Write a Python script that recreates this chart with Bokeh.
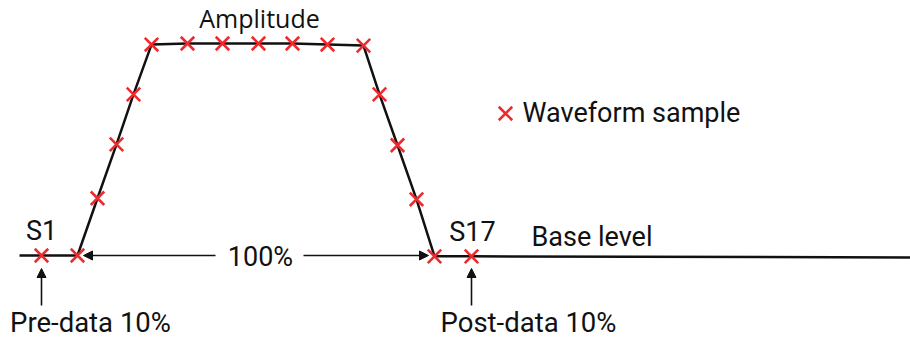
from bokeh.plotting import figure
from bokeh.models import Range1d, Arrow, NormalHead, ColumnDataSource
from bokeh.core.properties import value
from bokeh.embed import file_html
from bokeh.resources import INLINE

# ---- data (time in schematic units, amplitude in % of full amplitude) ----
sample_labels = ["S%d" % i for i in range(1, 18)]
sample_time = [41, 77, 97, 116, 133, 151, 187, 222, 258, 292, 327, 363, 379, 397, 416, 434, 471]
sample_amp = [0, 0, 27, 52.4, 76, 99.5, 100, 100, 100, 100, 99.5, 99, 76, 52, 26.5, -0.4, -0.4]
wave_start_time = [19]
wave_start_amp = [0]
wave_end_time = [915]
wave_end_amp = [-0.9]

# ---- layout helpers (screen pixel -> data units for annotations) ----
PX_PER_PCT = 2.12
BASE_Y = 255.0
TEXT_SHIFT = 10  # svg baseline offset correction


def ay(sy):
    return (BASE_Y - sy) / PX_PER_PCT


W, H = 910, 339
p = figure(width=W, height=H, output_backend="svg", toolbar_location=None,
           x_range=Range1d(0, W), y_range=Range1d(ay(H), ay(0)),
           x_axis_type=None, y_axis_type=None, min_border=0,
           background_fill_color="white", border_fill_color="white")
p.grid.visible = False
p.outline_line_color = None

# waveform line
line_x = wave_start_time + sample_time + wave_end_time
line_y = wave_start_amp + sample_amp + wave_end_amp
p.line(line_x, line_y, line_color="#111111", line_width=2.5)

# samples
src = ColumnDataSource(dict(t=sample_time, a=sample_amp, name=sample_labels))
RED = "#ee2a2e"
p.scatter("t", "a", source=src, marker="x", size=19, line_color=RED, line_width=2.6)

# legend marker
p.scatter([505], [ay(113)], marker="x", size=19, line_color=RED, line_width=2.6)

TXT = "#111111"
ROBOTO = value("Roboto")


def label(x, sy, txt, size="27px", align="left", font=ROBOTO):
    p.text([x], [ay(sy - TEXT_SHIFT)], text=[txt], text_font=font, text_font_size=size,
           text_color=TXT, text_align=align, text_baseline="alphabetic")


label(259, 27, "Amplitude", size="25px", align="center", font=value("Open Sans"))
label(sample_time[0], 240, sample_labels[0], align="center")
label(sample_time[-1] + 1, 241, sample_labels[-1], align="center")
label(531, 246, "Base level")
label(522, 122, "Waveform sample")
label(260, 266, "100%", align="center")
label(90, 332, "Pre-data 10%", align="center", size="27.5px")
label(528, 332, "Post-data 10%", align="center", size="27.5px")

# arrows
def arrow(x0, y0, x1, y1):
    p.add_layout(Arrow(end=NormalHead(size=9, fill_color="#111111", line_color="#111111", line_width=1),
                       x_start=x0, y_start=ay(y0), x_end=x1, y_end=ay(y1),
                       line_color="#111111", line_width=1.6))


arrow(215, 255, sample_time[1] + 6, 255)
arrow(303, 255, sample_time[15] - 6, 255)
arrow(sample_time[0], 305, sample_time[0], 268)
arrow(sample_time[-1], 305, sample_time[-1], 268)

open("out.html", "w").write(file_html(p, INLINE))
